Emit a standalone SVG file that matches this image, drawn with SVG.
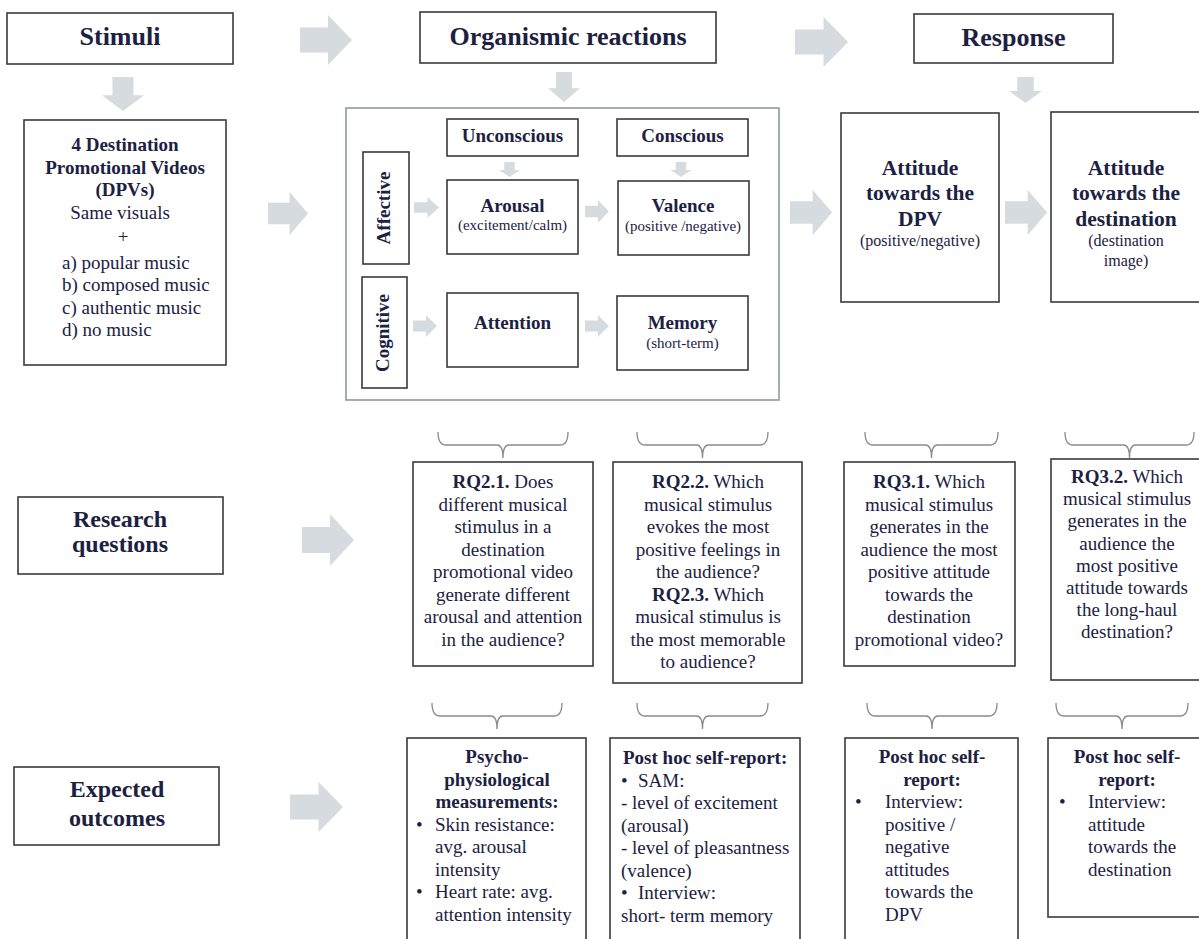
<svg xmlns="http://www.w3.org/2000/svg" xmlns:xlink="http://www.w3.org/1999/xlink" width="1199" height="939" viewBox="0 0 1199 939">
  <style>
    .box { fill: #ffffff; stroke: #3a3a3a; stroke-width: 1.6; }
    .frame { fill: none; stroke: #8e9c94; stroke-width: 1.6; }
    .arrow { fill: #d5dbdf; }
    .brace { fill: none; stroke: #8a8a8a; stroke-width: 1.3; }
    text { font-family: "Liberation Serif", "Times New Roman", serif; fill: #1c2142; }
    .h1 { font-size: 26px; font-weight: bold; text-anchor: middle; }
    .h2 { font-size: 24px; font-weight: bold; text-anchor: middle; }
    .hb { font-size: 19px; font-weight: bold; text-anchor: middle; }
    .ha { font-size: 21.5px; font-weight: bold; text-anchor: middle; }
    .tc { font-size: 19px; text-anchor: middle; }
    .tl { font-size: 19px; }
    .sm { font-size: 15px; text-anchor: middle; }
    .sm16 { font-size: 16px; text-anchor: middle; }
  </style>
  <defs>
    <!-- block arrow, 52 wide and 50 tall, pointing right from the origin -->
    <path id="arr" d="M0,-12.5 L28,-12.5 L28,-25 L52,0 L28,25 L28,12.5 L0,12.5 Z"/>
  </defs>

  <rect width="1199" height="939" fill="#ffffff"/>

  <!-- connectors -->
  <g id="connectors" class="arrow">
    <use xlink:href="#arr" transform="translate(300,40)"/>
    <use xlink:href="#arr" transform="translate(795,42) scale(1.02,1)"/>
    <use xlink:href="#arr" transform="translate(123,77) rotate(90) scale(0.654,0.84)"/>
    <use xlink:href="#arr" transform="translate(564,72) rotate(90) scale(0.577,0.64)"/>
    <use xlink:href="#arr" transform="translate(1025.5,77) rotate(90) scale(0.5,0.66)"/>
    <use xlink:href="#arr" transform="translate(268,213.5) scale(0.77,0.86)"/>
    <use xlink:href="#arr" transform="translate(790,212.5) scale(0.81,0.9)"/>
    <use xlink:href="#arr" transform="translate(1005,212.5) scale(0.81,0.9)"/>
    <use xlink:href="#arr" transform="translate(509.5,162) rotate(90) scale(0.29,0.42)"/>
    <use xlink:href="#arr" transform="translate(681,162) rotate(90) scale(0.29,0.42)"/>
    <use xlink:href="#arr" transform="translate(414,207.5) scale(0.48,0.42)"/>
    <use xlink:href="#arr" transform="translate(585,211.5) scale(0.46,0.46)"/>
    <use xlink:href="#arr" transform="translate(413,326) scale(0.46,0.44)"/>
    <use xlink:href="#arr" transform="translate(585,326) scale(0.46,0.44)"/>
    <use xlink:href="#arr" transform="translate(302,540) scale(1,1.04)"/>
    <use xlink:href="#arr" transform="translate(290,807) scale(1.02,1)"/>
  </g>

  <!-- braces grouping the research questions and outcomes -->
  <g id="braces" class="brace">
    <path d="M438,432 Q438,445 446,445 L497,445 Q503,445 503,458 Q503,445 509,445 L560,445 Q568,445 568,432"/>
    <path d="M637,432 Q637,445 645,445 L696.5,445 Q702.5,445 702.5,458 Q702.5,445 708.5,445 L760,445 Q768,445 768,432"/>
    <path d="M865,432 Q865,445 873,445 L925.5,445 Q931.5,445 931.5,458 Q931.5,445 937.5,445 L990,445 Q998,445 998,432"/>
    <path d="M1065,432 Q1065,445 1073,445 L1123.5,445 Q1129.5,445 1129.5,458 Q1129.5,445 1135.5,445 L1186,445 Q1194,445 1194,432"/>
    <path d="M432,703 Q432,716 440,716 L491,716 Q497,716 497,729 Q497,716 503,716 L554,716 Q562,716 562,703"/>
    <path d="M637,703 Q637,716 645,716 L696.5,716 Q702.5,716 702.5,729 Q702.5,716 708.5,716 L760,716 Q768,716 768,703"/>
    <path d="M867,703 Q867,716 875,716 L926,716 Q932,716 932,729 Q932,716 938,716 L989,716 Q997,716 997,703"/>
    <path d="M1056,703 Q1056,716 1064,716 L1116,716 Q1122,716 1122,729 Q1122,716 1128,716 L1180,716 Q1188,716 1188,703"/>
  </g>

  <!-- column headers -->
  <g id="stimuli">
    <rect class="box" x="7" y="13" width="226" height="51"/>
    <text class="h1" x="120" y="45">Stimuli</text>
  </g>
  <g id="organismic">
    <rect class="box" x="420" y="12" width="296" height="51"/>
    <text class="h1" x="568" y="45">Organismic reactions</text>
  </g>
  <g id="response">
    <rect class="box" x="914" y="14" width="199" height="49"/>
    <text class="h1" x="1013.5" y="46">Response</text>
  </g>

  <!-- stimuli: the four videos -->
  <g id="dpv">
    <rect class="box" x="24" y="120" width="202" height="245"/>
    <text class="hb" x="125" y="151">4 Destination</text>
    <text class="hb" x="125" y="174">Promotional Videos</text>
    <text class="hb" x="125" y="196">(DPVs)</text>
    <text class="tc" x="120" y="219">Same visuals</text>
    <text class="tc" x="123" y="243">+</text>
    <text class="tl" x="62" y="269">a) popular music</text>
    <text class="tl" x="62" y="291">b) composed music</text>
    <text class="tl" x="62" y="314">c) authentic music</text>
    <text class="tl" x="62" y="336">d) no music</text>
  </g>

  <!-- organismic reactions frame -->
  <g id="reactions-frame">
    <rect class="frame" x="346" y="108" width="433" height="292"/>
  </g>
  <g id="unconscious">
    <rect class="box" x="447" y="119" width="131" height="37"/>
    <text class="hb" x="512.5" y="142">Unconscious</text>
  </g>
  <g id="conscious">
    <rect class="box" x="617" y="119" width="131" height="37"/>
    <text class="hb" x="682.5" y="142">Conscious</text>
  </g>
  <g id="affective">
    <rect class="box" x="363" y="152" width="46" height="112"/>
    <text class="hb" x="390" y="208" transform="rotate(-90 390 208)">Affective</text>
  </g>
  <g id="cognitive">
    <rect class="box" x="362" y="277" width="45" height="111"/>
    <text class="hb" x="389" y="333" transform="rotate(-90 389 333)">Cognitive</text>
  </g>
  <g id="arousal">
    <rect class="box" x="447" y="180" width="131" height="74"/>
    <text class="hb" x="512.5" y="212">Arousal</text>
    <text class="sm" x="512.5" y="230">(excitement/calm)</text>
  </g>
  <g id="valence">
    <rect class="box" x="618" y="181" width="131" height="74"/>
    <text class="hb" x="683" y="212">Valence</text>
    <text class="sm" x="683" y="231">(positive /negative)</text>
  </g>
  <g id="attention">
    <rect class="box" x="447" y="293" width="131" height="74"/>
    <text class="hb" x="512.5" y="329">Attention</text>
  </g>
  <g id="memory">
    <rect class="box" x="617" y="296" width="131" height="74"/>
    <text class="hb" x="682.5" y="329">Memory</text>
    <text class="sm" x="682.5" y="348">(short-term)</text>
  </g>

  <!-- response outcomes -->
  <g id="attitude-dpv">
    <rect class="box" x="841" y="113" width="158" height="189"/>
    <text class="ha" x="920" y="175">Attitude</text>
    <text class="ha" x="920" y="200">towards the</text>
    <text class="ha" x="920" y="226">DPV</text>
    <text class="sm16" x="920" y="246">(positive/negative)</text>
  </g>
  <g id="attitude-destination">
    <rect class="box" x="1051" y="112" width="156" height="190"/>
    <text class="ha" x="1126" y="175">Attitude</text>
    <text class="ha" x="1126" y="200">towards the</text>
    <text class="ha" x="1126" y="226">destination</text>
    <text class="sm16" x="1126" y="246">(destination</text>
    <text class="sm16" x="1126" y="266">image)</text>
  </g>

  <!-- research questions row -->
  <g id="research-questions">
    <rect class="box" x="18" y="497" width="205" height="77"/>
    <text class="h2" x="120" y="527">Research</text>
    <text class="h2" x="120" y="552">questions</text>
  </g>
  <g id="rq21">
    <rect class="box" x="413" y="462" width="180" height="204"/>
    <text class="tc" x="503" y="488"><tspan font-weight="bold">RQ2.1.</tspan> Does</text>
    <text class="tc" x="503" y="510.5">different musical</text>
    <text class="tc" x="503" y="533">stimulus in a</text>
    <text class="tc" x="503" y="555.5">destination</text>
    <text class="tc" x="503" y="578">promotional video</text>
    <text class="tc" x="503" y="600.5">generate different</text>
    <text class="tc" x="503" y="623">arousal and attention</text>
    <text class="tc" x="503" y="645.5">in the audience?</text>
  </g>
  <g id="rq22">
    <rect class="box" x="613" y="462" width="189" height="221"/>
    <text class="tc" x="708" y="488"><tspan font-weight="bold">RQ2.2.</tspan> Which</text>
    <text class="tc" x="708" y="510.5">musical stimulus</text>
    <text class="tc" x="708" y="533">evokes the most</text>
    <text class="tc" x="708" y="555.5">positive feelings in</text>
    <text class="tc" x="708" y="578">the audience?</text>
    <text class="tc" x="708" y="600.5"><tspan font-weight="bold">RQ2.3.</tspan> Which</text>
    <text class="tc" x="708" y="623">musical stimulus is</text>
    <text class="tc" x="708" y="645.5">the most memorable</text>
    <text class="tc" x="708" y="668">to audience?</text>
  </g>
  <g id="rq31">
    <rect class="box" x="844" y="462" width="171" height="204"/>
    <text class="tc" x="929" y="488"><tspan font-weight="bold">RQ3.1.</tspan> Which</text>
    <text class="tc" x="929" y="510.5">musical stimulus</text>
    <text class="tc" x="929" y="533">generates in the</text>
    <text class="tc" x="929" y="555.5">audience the most</text>
    <text class="tc" x="929" y="578">positive attitude</text>
    <text class="tc" x="929" y="600.5">towards the</text>
    <text class="tc" x="929" y="623">destination</text>
    <text class="tc" x="929" y="645.5">promotional video?</text>
  </g>
  <g id="rq32">
    <rect class="box" x="1051" y="459" width="155" height="221"/>
    <text class="tc" x="1127" y="483"><tspan font-weight="bold">RQ3.2.</tspan> Which</text>
    <text class="tc" x="1127" y="505.2">musical stimulus</text>
    <text class="tc" x="1127" y="527.4">generates in the</text>
    <text class="tc" x="1127" y="549.6">audience the</text>
    <text class="tc" x="1127" y="571.8">most positive</text>
    <text class="tc" x="1127" y="594">attitude towards</text>
    <text class="tc" x="1127" y="616.2">the long-haul</text>
    <text class="tc" x="1127" y="638.4">destination?</text>
  </g>

  <!-- expected outcomes row -->
  <g id="expected-outcomes">
    <rect class="box" x="14" y="767" width="205" height="78"/>
    <text class="h2" x="117" y="797">Expected</text>
    <text class="h2" x="117" y="826">outcomes</text>
  </g>
  <g id="outcome-physio">
    <rect class="box" x="407" y="738" width="179" height="210"/>
    <text class="hb" x="497" y="763">Psycho-</text>
    <text class="hb" x="497" y="785.5">physiological</text>
    <text class="hb" x="497" y="808">measurements:</text>
    <text class="tl" x="416" y="830.5">•</text>
    <text class="tl" x="435" y="830.5">Skin resistance:</text>
    <text class="tl" x="435" y="853">avg. arousal</text>
    <text class="tl" x="435" y="875.5">intensity</text>
    <text class="tl" x="416" y="898">•</text>
    <text class="tl" x="435" y="898">Heart rate: avg.</text>
    <text class="tl" x="435" y="920.5">attention intensity</text>
  </g>
  <g id="outcome-selfreport-a">
    <rect class="box" x="610" y="738" width="190" height="210"/>
    <text class="hb" x="623" y="764" text-anchor="start" style="text-anchor:start">Post hoc self-report:</text>
    <text class="tl" x="621" y="786.5">•</text>
    <text class="tl" x="638" y="786.5">SAM:</text>
    <text class="tl" x="621" y="809">- level of excitement</text>
    <text class="tl" x="621" y="831.5">(arousal)</text>
    <text class="tl" x="621" y="854">- level of pleasantness</text>
    <text class="tl" x="621" y="876.5">(valence)</text>
    <text class="tl" x="621" y="899">•</text>
    <text class="tl" x="638" y="899">Interview:</text>
    <text class="tl" x="621" y="921.5">short- term memory</text>
  </g>
  <g id="outcome-selfreport-b">
    <rect class="box" x="845" y="738" width="173" height="210"/>
    <text class="hb" x="932" y="763">Post hoc self-</text>
    <text class="hb" x="932" y="785.5">report:</text>
    <text class="tl" x="855" y="808">•</text>
    <text class="tl" x="885" y="808">Interview:</text>
    <text class="tl" x="885" y="830.5">positive /</text>
    <text class="tl" x="885" y="853">negative</text>
    <text class="tl" x="885" y="875.5">attitudes</text>
    <text class="tl" x="885" y="898">towards the</text>
    <text class="tl" x="885" y="920.5">DPV</text>
  </g>
  <g id="outcome-selfreport-c">
    <rect class="box" x="1048" y="738" width="158" height="179"/>
    <text class="hb" x="1127" y="763">Post hoc self-</text>
    <text class="hb" x="1127" y="785.5">report:</text>
    <text class="tl" x="1059" y="808">•</text>
    <text class="tl" x="1088" y="808">Interview:</text>
    <text class="tl" x="1088" y="830.5">attitude</text>
    <text class="tl" x="1088" y="853">towards the</text>
    <text class="tl" x="1088" y="875.5">destination</text>
  </g>
</svg>
